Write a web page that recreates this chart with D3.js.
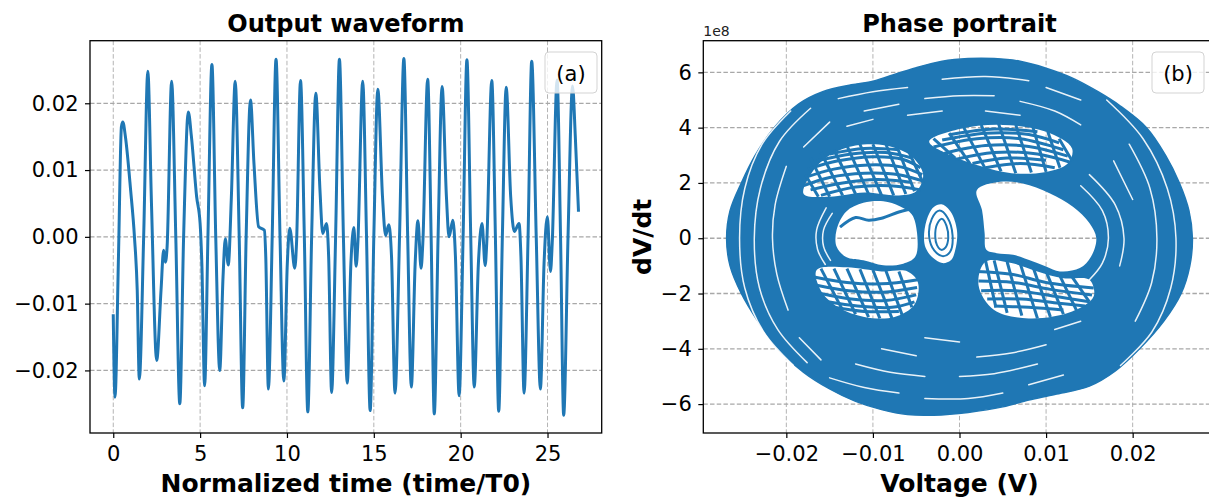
<!DOCTYPE html>
<html>
<head>
<meta charset="utf-8">
<script src="https://cdn.jsdelivr.net/npm/d3@7/dist/d3.min.js"></script>
<style>
  body { margin: 0; background: #fff; }
  text { font-family: "DejaVu Sans", sans-serif; }
</style>
</head>
<body>
<svg id="fig" width="1209" height="498"></svg>
<script>
// ---------- Output waveform: normalized time vs output voltage (V) ----------
const waveTime = [
  0.00, 0.10, 0.30, 0.47, 0.55, 0.70, 1.00, 1.22, 1.38, 1.50,
  1.75, 1.99, 2.20, 2.50, 2.75, 2.90, 3.00, 3.10, 3.36, 3.60,
  3.83, 4.05, 4.32, 4.50, 4.80, 5.00, 5.10, 5.26, 5.45, 5.68,
  5.90, 6.13, 6.32, 6.45, 6.62, 6.80, 7.02, 7.25, 7.45, 7.65,
  7.90, 8.10, 8.37, 8.70, 8.78, 8.93, 9.15, 9.37, 9.60, 9.82,
  10.02, 10.16, 10.45, 10.55, 10.78, 11.00, 11.20, 11.42, 11.66, 11.90,
  12.06, 12.28, 12.40, 12.57, 12.80, 13.02, 13.25, 13.47, 13.68, 13.85,
  13.98, 14.08, 14.36, 14.58, 14.79, 15.00, 15.23, 15.50, 15.68, 15.86,
  16.02, 16.22, 16.48, 16.73, 16.95, 17.16, 17.38, 17.54, 17.72, 17.82,
  18.10, 18.30, 18.48, 18.70, 18.93, 19.18, 19.33, 19.55, 19.70, 19.91,
  20.14, 20.36, 20.58, 20.78, 21.02, 21.23, 21.41, 21.50, 21.79, 22.00,
  22.19, 22.40, 22.62, 22.88, 23.09, 23.36, 23.47, 23.65, 23.88, 24.09,
  24.35, 24.59, 24.80, 24.99, 25.17, 25.27, 25.55, 25.75, 25.93, 26.18,
  26.44, 26.60, 26.78
];
const waveVolt = [
  -0.0118, -0.0240, -0.0030, 0.0165, 0.0172, 0.0150, 0.0070, 0.0000, -0.0080, -0.0213,
  0.0000, 0.0248, 0.0050, -0.0185, -0.0080, -0.0020, -0.0038, -0.0015, 0.0233, 0.0000,
  -0.0250, 0.0000, 0.0187, 0.0150, 0.0060, 0.0020, -0.0040, -0.0223, 0.0000, 0.0258,
  0.0000, -0.0200, -0.0060, -0.0003, -0.0042, 0.0060, 0.0233, 0.0000, -0.0256, 0.0000,
  0.0205, 0.0110, 0.0015, 0.0010, -0.0030, -0.0228, 0.0000, 0.0266, 0.0000, -0.0216,
  -0.0040, 0.0013, -0.0047, -0.0010, 0.0234, 0.0000, -0.0262, 0.0000, 0.0215, 0.0070,
  0.0005, 0.0020, -0.0030, -0.0233, 0.0000, 0.0266, 0.0000, -0.0219, -0.0040, 0.0014,
  -0.0044, -0.0010, 0.0233, 0.0000, -0.0260, 0.0000, 0.0221, 0.0060, 0.0002, 0.0018,
  -0.0030, -0.0234, 0.0000, 0.0267, 0.0000, -0.0225, -0.0040, 0.0024, -0.0047, -0.0010,
  0.0236, 0.0000, -0.0265, 0.0000, 0.0225, 0.0060, 0.0000, 0.0025, -0.0030, -0.0238,
  0.0000, 0.0265, 0.0000, -0.0225, -0.0040, 0.0020, -0.0043, -0.0010, 0.0234, 0.0000,
  -0.0261, 0.0000, 0.0224, 0.0060, 0.0008, 0.0020, -0.0030, -0.0234, 0.0000, 0.0263,
  0.0000, -0.0228, -0.0040, 0.0030, -0.0052, -0.0010, 0.0235, 0.0000, -0.0267, 0.0000,
  0.0226, 0.0150, 0.0040
];
const waveXTicks = [0, 5, 10, 15, 20, 25];
const waveYTicks = [-0.02, -0.01, 0.00, 0.01, 0.02];

// ---------- Phase portrait: [V (V), dV/dt (×1e8)] ----------
const outerEnvelope = [
  [-0.0269, 0], [-0.0265, 1.0], [-0.0252, 2.0], [-0.0236, 3.0], [-0.0214, 4.0],
  [-0.0186, 4.85], [-0.0158, 5.3], [-0.0125, 5.55], [-0.0100, 5.68], [-0.0080, 5.88],
  [-0.0050, 6.17], [-0.0020, 6.4], [0.0010, 6.5], [0.0040, 6.5], [0.0070, 6.4],
  [0.0100, 6.15], [0.0130, 5.8], [0.0160, 5.3], [0.0185, 4.8], [0.0216, 4.0],
  [0.0238, 3.0], [0.0254, 2.0], [0.0265, 1.0], [0.0269, 0], [0.0266, -1.0],
  [0.0256, -2.0], [0.0236, -3.0], [0.0208, -4.0], [0.0180, -4.8], [0.0150, -5.35],
  [0.0110, -5.65], [0.0080, -5.85], [0.0050, -6.1], [0.0010, -6.3], [-0.0030, -6.4],
  [-0.0060, -6.38], [-0.0090, -6.2], [-0.0120, -5.9], [-0.0150, -5.45], [-0.0180, -4.85],
  [-0.0210, -4.0], [-0.0233, -3.0], [-0.0252, -2.0], [-0.0265, -1.0]
];
const leftLobeHole = [
  [-0.0142, 0.3], [-0.0131, 0.96], [-0.0111, 1.28], [-0.0088, 1.34], [-0.0069, 1.16],
  [-0.0055, 0.86], [-0.0049, 0.18], [-0.0051, -0.66], [-0.0065, -0.92], [-0.0088, -0.98],
  [-0.0111, -0.8], [-0.0131, -0.68], [-0.0142, -0.3]
];
const rightLobeHole = [
  [0.0020, 1.74], [0.0047, 2.04], [0.0073, 1.98], [0.0104, 1.63], [0.0131, 1.14],
  [0.0150, 0.55], [0.0158, 0.0], [0.0152, -0.66], [0.0139, -1.08], [0.0116, -1.2],
  [0.0100, -1.02], [0.0085, -0.84], [0.0062, -0.6], [0.0043, -0.54], [0.0031, -0.42],
  [0.0029, 0.19], [0.0026, 1.02]
];
const centralLoopHole = [
  [-0.0041, 0.0], [-0.0038, 0.65], [-0.0030, 1.12], [-0.0020, 1.22], [-0.0010, 0.95],
  [-0.0003, 0.3], [-0.0004, -0.3], [-0.0010, -0.8], [-0.0020, -0.9], [-0.0031, -0.7],
  [-0.0039, -0.35]
];
const meshUpperLeft = [
  [-0.0180, 1.6], [-0.0170, 2.4], [-0.0150, 3.0], [-0.0120, 3.35], [-0.0085, 3.35],
  [-0.0055, 2.95], [-0.0042, 2.3], [-0.0050, 1.7], [-0.0070, 1.55], [-0.0110, 1.65],
  [-0.0150, 1.5]
];
const meshLowerLeft = [
  [-0.0165, -1.15], [-0.0160, -1.9], [-0.0140, -2.5], [-0.0110, -2.85], [-0.0075, -2.85],
  [-0.0052, -2.4], [-0.0048, -1.6], [-0.0060, -1.2], [-0.0090, -1.2], [-0.0130, -1.05]
];
const meshUpperRight = [
  [-0.0035, 3.5], [0.0000, 3.95], [0.0050, 4.1], [0.0100, 3.85], [0.0130, 3.25],
  [0.0125, 2.7], [0.0100, 2.4], [0.0060, 2.35], [0.0025, 2.6], [-0.0010, 3.0]
];
const meshLowerRight = [
  [0.0030, -0.85], [0.0060, -0.9], [0.0090, -1.2], [0.0120, -1.45], [0.0150, -1.5],
  [0.0155, -2.1], [0.0130, -2.65], [0.0080, -2.9], [0.0040, -2.6], [0.0022, -1.7]
];
// individual trajectory strands crossing the open regions
const meshStrands = [
  // upper-left lobe lattice
  [[-0.0180, 1.9], [-0.0150, 2.2], [-0.0110, 2.35], [-0.0070, 2.3], [-0.0040, 2.05]],
  [[-0.0178, 2.2], [-0.0145, 2.5], [-0.0105, 2.65], [-0.0068, 2.58], [-0.0043, 2.3]],
  [[-0.0175, 2.5], [-0.0140, 2.8], [-0.0100, 2.95], [-0.0065, 2.85], [-0.0045, 2.55]],
  [[-0.0165, 2.8], [-0.0125, 3.05], [-0.0085, 3.1], [-0.0055, 2.9]],
  [[-0.0150, 3.05], [-0.0110, 3.25], [-0.0070, 3.2]],
  [[-0.0172, 1.75], [-0.0135, 2.0], [-0.0095, 2.12], [-0.0055, 2.02]],
  [[-0.0160, 1.55], [-0.0120, 1.85], [-0.0080, 1.9], [-0.0045, 1.75]],
  [[-0.0178, 2.3], [-0.0163, 1.5]],
  [[-0.0172, 2.9], [-0.0150, 1.5]],
  [[-0.0160, 3.1], [-0.0135, 1.55]],
  [[-0.0145, 3.2], [-0.0120, 1.6]],
  [[-0.0130, 3.35], [-0.0105, 1.6]],
  [[-0.0115, 3.4], [-0.0090, 1.55]],
  [[-0.0100, 3.4], [-0.0076, 1.55]],
  [[-0.0085, 3.4], [-0.0062, 1.6]],
  [[-0.0072, 3.3], [-0.0052, 1.7]],
  [[-0.0058, 3.1], [-0.0042, 2.0]],
  // lower-left lobe lattice
  [[-0.0168, -1.4], [-0.0130, -1.6], [-0.0090, -1.65], [-0.0048, -1.5]],
  [[-0.0165, -1.7], [-0.0128, -1.9], [-0.0088, -1.95], [-0.0049, -1.78]],
  [[-0.0160, -2.0], [-0.0125, -2.2], [-0.0085, -2.25], [-0.0050, -2.05]],
  [[-0.0152, -2.3], [-0.0118, -2.45], [-0.0078, -2.5], [-0.0052, -2.3]],
  [[-0.0145, -2.5], [-0.0110, -2.65], [-0.0070, -2.65]],
  [[-0.0160, -1.1], [-0.0135, -2.6]],
  [[-0.0145, -1.1], [-0.0120, -2.75]],
  [[-0.0130, -1.1], [-0.0105, -2.85]],
  [[-0.0115, -1.12], [-0.0092, -2.9]],
  [[-0.0100, -1.15], [-0.0078, -2.9]],
  [[-0.0085, -1.18], [-0.0066, -2.8]],
  [[-0.0070, -1.2], [-0.0055, -2.5]],
  // upper-right band lattice
  [[-0.0030, 3.3], [0.0020, 3.6], [0.0070, 3.6], [0.0120, 3.2]],
  [[-0.0018, 3.07], [0.0030, 3.35], [0.0080, 3.32], [0.0125, 2.97]],
  [[-0.0005, 2.85], [0.0040, 3.1], [0.0090, 3.05], [0.0128, 2.75]],
  [[0.0015, 2.7], [0.0055, 2.9], [0.0100, 2.82]],
  [[0.0030, 2.55], [0.0070, 2.7], [0.0110, 2.55]],
  [[-0.0020, 3.55], [0.0030, 3.8], [0.0080, 3.75], [0.0115, 3.45]],
  [[-0.0010, 3.75], [0.0040, 3.95], [0.0090, 3.85]],
  [[-0.0030, 3.6], [-0.0005, 2.9]],
  [[-0.0012, 3.8], [0.0012, 2.7]],
  [[0.0005, 4.0], [0.0030, 2.5]],
  [[0.0025, 4.1], [0.0048, 2.42]],
  [[0.0045, 4.15], [0.0065, 2.35]],
  [[0.0065, 4.1], [0.0083, 2.38]],
  [[0.0085, 4.0], [0.0100, 2.4]],
  [[0.0102, 3.85], [0.0116, 2.55]],
  [[0.0115, 3.6], [0.0130, 2.8]],
  // lower-right lobe lattice
  [[0.0020, -1.2], [0.0060, -1.3], [0.0100, -1.6], [0.0155, -1.8]],
  [[0.0022, -1.55], [0.0062, -1.6], [0.0105, -1.85], [0.0153, -2.05]],
  [[0.0025, -1.9], [0.0065, -1.9], [0.0110, -2.1], [0.0150, -2.3]],
  [[0.0032, -2.2], [0.0072, -2.2], [0.0115, -2.35], [0.0145, -2.45]],
  [[0.0040, -2.45], [0.0080, -2.5], [0.0120, -2.6]],
  [[0.0030, -0.8], [0.0042, -2.5]],
  [[0.0040, -0.8], [0.0055, -2.7]],
  [[0.0055, -0.85], [0.0072, -2.8]],
  [[0.0070, -0.9], [0.0090, -2.9]],
  [[0.0085, -1.05], [0.0105, -2.85]],
  [[0.0100, -1.2], [0.0120, -2.75]],
  [[0.0115, -1.3], [0.0135, -2.6]],
  [[0.0130, -1.4], [0.0150, -2.3]],
  // loop crossing the left lobe opening
  [[-0.0138, 0.4], [-0.0120, 0.75], [-0.0105, 0.65], [-0.0090, 0.72], [-0.0070, 0.95], [-0.0058, 1.05]]
];
const centralLoops = [
  [[-0.0035, 0.05], [-0.0032, 0.7], [-0.0023, 1.0], [-0.0014, 0.75], [-0.0008, 0.1], [-0.0011, -0.5], [-0.0019, -0.65], [-0.0029, -0.45]],
  [[-0.0028, 0.05], [-0.0026, 0.5], [-0.0020, 0.7], [-0.0015, 0.45], [-0.0013, 0.0], [-0.0016, -0.33], [-0.0021, -0.42], [-0.0026, -0.25]]
];
// thin open gaps between neighbouring orbits in the dense band
const orbitGaps = [
  [[-0.0195, 4.6], [-0.0228, 3.4], [-0.0248, 1.8], [-0.0254, 0], [-0.0248, -1.8], [-0.0226, -3.4], [-0.0192, -4.6]],
  [[-0.0172, 4.7], [-0.0208, 3.5], [-0.0230, 1.8], [-0.0237, 0], [-0.0231, -1.8], [-0.0210, -3.3], [-0.0176, -4.5]],
  [[-0.0200, 2.6], [-0.0213, 1.2], [-0.0216, 0], [-0.0211, -1.3], [-0.0198, -2.6]],
  [[-0.0150, 4.2], [-0.0180, 3.3]],
  [[-0.0185, -3.6], [-0.0160, -4.4]],
  [[0.0170, 5.0], [0.0212, 3.6], [0.0240, 1.8], [0.0250, 0], [0.0244, -1.8], [0.0222, -3.4], [0.0186, -4.6]],
  [[0.0196, 3.4], [0.0220, 1.8], [0.0228, 0], [0.0222, -1.6], [0.0203, -3.0]],
  [[0.0140, 1.9], [0.0165, 1.0], [0.0172, 0], [0.0165, -0.9], [0.0150, -1.5]],
  [[0.0150, 2.3], [0.0180, 1.2], [0.0190, 0], [0.0185, -1.0]],
  [[0.0178, 2.8], [0.0200, 1.4]],
  [[-0.0140, 5.05], [-0.0100, 5.3], [-0.0060, 5.45]],
  [[-0.0020, 5.75], [0.0030, 5.85], [0.0080, 5.7]],
  [[0.0100, 5.45], [0.0140, 5.0]],
  [[-0.0110, 4.6], [-0.0070, 4.85]],
  [[-0.0040, 5.05], [0.0000, 5.15], [0.0040, 5.15]],
  [[0.0070, 4.95], [0.0110, 4.6], [0.0140, 4.1]],
  [[-0.0130, 4.05], [-0.0100, 4.3]],
  [[-0.0060, 4.45], [-0.0020, 4.6]],
  [[0.0030, 4.6], [0.0070, 4.45]],
  [[-0.0150, -5.05], [-0.0110, -5.4], [-0.0070, -5.6]],
  [[-0.0040, -5.8], [0.0010, -5.8], [0.0050, -5.6]],
  [[0.0080, -5.3], [0.0120, -4.95]],
  [[-0.0120, -4.55], [-0.0080, -4.85], [-0.0040, -5.0]],
  [[0.0000, -5.0], [0.0040, -4.9], [0.0090, -4.55]],
  [[-0.0090, -4.0], [-0.0050, -4.25]],
  [[0.0020, -4.3], [0.0060, -4.15], [0.0100, -3.85]],
  [[-0.0040, -3.6], [0.0000, -3.75]],
  [[0.0110, -3.3], [0.0140, -3.0]],
  [[-0.0147, 0.9], [-0.0157, 0.3], [-0.0157, -0.3], [-0.0149, -0.8]],
  [[-0.0154, 1.1], [-0.0165, 0.3], [-0.0164, -0.4], [-0.0155, -0.95]]
];
const phaseXTicks = [-0.02, -0.01, 0.00, 0.01, 0.02];
const phaseYTicks = [-6, -4, -2, 0, 2, 4, 6];

// ---------- layout ----------
const BLUE = "#1f77b4";
const svg = d3.select("#fig");
const boxA = { left: 90, right: 601.7, top: 40.7, bottom: 433 };
const boxB = { left: 703.3, right: 1215.7, top: 40.7, bottom: 433 };

function padded(ext) {
  const p = 0.05 * (ext[1] - ext[0]);
  return [ext[0] - p, ext[1] + p];
}

function frame(box, x, y, xt, yt, id) {
  const g = svg.append("g");
  svg.append("defs").append("clipPath").attr("id", id)
    .append("rect").attr("x", box.left).attr("y", box.top)
    .attr("width", box.right - box.left).attr("height", box.bottom - box.top);
  // dashed grid under the data
  g.selectAll(".vg").data(xt).join("line")
    .attr("x1", d => x(d)).attr("x2", d => x(d))
    .attr("y1", box.top).attr("y2", box.bottom)
    .attr("stroke", "#b4b4b4").attr("stroke-width", 1).attr("stroke-dasharray", "4.5,2.2");
  g.selectAll(".hg").data(yt).join("line")
    .attr("x1", box.left).attr("x2", box.right)
    .attr("y1", d => y(d)).attr("y2", d => y(d))
    .attr("stroke", "#a8a8a8").attr("stroke-width", 1.3).attr("stroke-dasharray", "4.5,2.2");
  return svg.append("g").attr("clip-path", `url(#${id})`);
}

function axesOn(box, x, y, xt, yt, xfmt, yfmt) {
  const ax = svg.append("g").attr("transform", `translate(0,${box.bottom})`)
    .call(d3.axisBottom(x).tickValues(xt).tickFormat(xfmt).tickSize(5).tickPadding(8.5));
  const ay = svg.append("g").attr("transform", `translate(${box.left},0)`)
    .call(d3.axisLeft(y).tickValues(yt).tickFormat(yfmt).tickSize(5).tickPadding(6.5));
  [ax, ay].forEach(a => {
    a.select(".domain").remove();
    a.selectAll("line").attr("stroke", "#000").attr("stroke-width", 1.2);
    a.selectAll("text").attr("font-size", 21).attr("fill", "#000")
      .attr("font-family", "DejaVu Sans, sans-serif");
  });
  svg.append("rect").attr("x", box.left).attr("y", box.top)
    .attr("width", box.right - box.left).attr("height", box.bottom - box.top)
    .attr("fill", "none").attr("stroke", "#000").attr("stroke-width", 1.3);
}

function tag(label, x0, y0) {
  svg.append("rect").attr("x", x0).attr("y", y0).attr("width", 52).attr("height", 41)
    .attr("rx", 4).attr("fill", "#fff").attr("fill-opacity", 0.8)
    .attr("stroke", "#d3d3d3").attr("stroke-width", 1);
  svg.append("text").attr("x", x0 + 26).attr("y", y0 + 28.5).attr("text-anchor", "middle")
    .attr("font-size", 21).attr("fill", "#000").text(label);
}

function heading(text, cx, y, size) {
  svg.append("text").attr("x", cx).attr("y", y).attr("text-anchor", "middle")
    .attr("font-size", size).attr("font-weight", "bold").attr("fill", "#000").text(text);
}

// ---------- panel (a) ----------
const waveData = waveTime.map((t, i) => [t, waveVolt[i]]);
const xA = d3.scaleLinear().domain(padded(d3.extent(waveTime))).range([boxA.left, boxA.right]);
const yA = d3.scaleLinear().domain(padded(d3.extent(waveVolt))).range([boxA.bottom, boxA.top]);
const plotA = frame(boxA, xA, yA, waveXTicks, waveYTicks, "clipA");
plotA.append("path").datum(waveData)
  .attr("d", d3.line().x(d => xA(d[0])).y(d => yA(d[1])).curve(d3.curveMonotoneX))
  .attr("fill", "none").attr("stroke", BLUE).attr("stroke-width", 3)
  .attr("stroke-linejoin", "round").attr("stroke-linecap", "square");
axesOn(boxA, xA, yA, waveXTicks, waveYTicks, d3.format("d"), d3.format(".2f"));
tag("(a)", 545, 52);
heading("Output waveform", (boxA.left + boxA.right) / 2, 32, 24);
heading("Normalized time (time/T0)", (boxA.left + boxA.right) / 2, 491.5, 25);

// ---------- panel (b) ----------
const xB = d3.scaleLinear().domain(padded(d3.extent(outerEnvelope, d => d[0]))).range([boxB.left, boxB.right]);
const yB = d3.scaleLinear().domain(padded(d3.extent(outerEnvelope, d => d[1]))).range([boxB.bottom, boxB.top]);
const plotB = frame(boxB, xB, yB, phaseXTicks, phaseYTicks, "clipB");
const closedLine = d3.line().x(d => xB(d[0])).y(d => yB(d[1])).curve(d3.curveCatmullRomClosed);
const openLine = d3.line().x(d => xB(d[0])).y(d => yB(d[1])).curve(d3.curveCatmullRom);

const mask = svg.append("defs").append("mask").attr("id", "openings")
  .attr("maskUnits", "userSpaceOnUse").attr("x", 0).attr("y", 0).attr("width", 1209).attr("height", 498);
mask.append("rect").attr("width", 1209).attr("height", 498).attr("fill", "#fff");
mask.selectAll("path")
  .data([leftLobeHole, rightLobeHole, centralLoopHole, meshUpperLeft, meshLowerLeft, meshUpperRight, meshLowerRight])
  .join("path").attr("d", closedLine).attr("fill", "#000");

plotB.append("path").datum(outerEnvelope).attr("d", closedLine)
  .attr("fill", BLUE).attr("mask", "url(#openings)");
plotB.append("path").datum(outerEnvelope).attr("d", closedLine)
  .attr("fill", "none").attr("stroke", BLUE).attr("stroke-width", 1.5);
plotB.selectAll(".strand").data(meshStrands).join("path")
  .attr("d", openLine).attr("fill", "none").attr("stroke", BLUE).attr("stroke-width", 3);
plotB.selectAll(".loop").data(centralLoops).join("path")
  .attr("d", closedLine).attr("fill", "none").attr("stroke", BLUE).attr("stroke-width", 2);
plotB.selectAll(".gap").data(orbitGaps).join("path")
  .attr("d", openLine).attr("fill", "none").attr("stroke", "#fff").attr("stroke-width", 1.5)
  .attr("stroke-opacity", 0.9).attr("stroke-linecap", "round");

axesOn(boxB, xB, yB, phaseXTicks, phaseYTicks, d3.format(".2f"), d3.format("d"));
tag("(b)", 1152, 52);
heading("Phase portrait", (boxB.left + boxB.right) / 2, 32, 24);
heading("Voltage (V)", (boxB.left + boxB.right) / 2, 491.5, 25);
svg.append("text").attr("transform", `translate(651,${(boxB.top + boxB.bottom) / 2}) rotate(-90)`)
  .attr("text-anchor", "middle").attr("font-size", 25).attr("font-weight", "bold")
  .attr("fill", "#000").text("dV/dt");
svg.append("text").attr("x", boxB.left).attr("y", 36).attr("font-size", 14)
  .attr("fill", "#222").text("1e8");
</script>
</body>
</html>
